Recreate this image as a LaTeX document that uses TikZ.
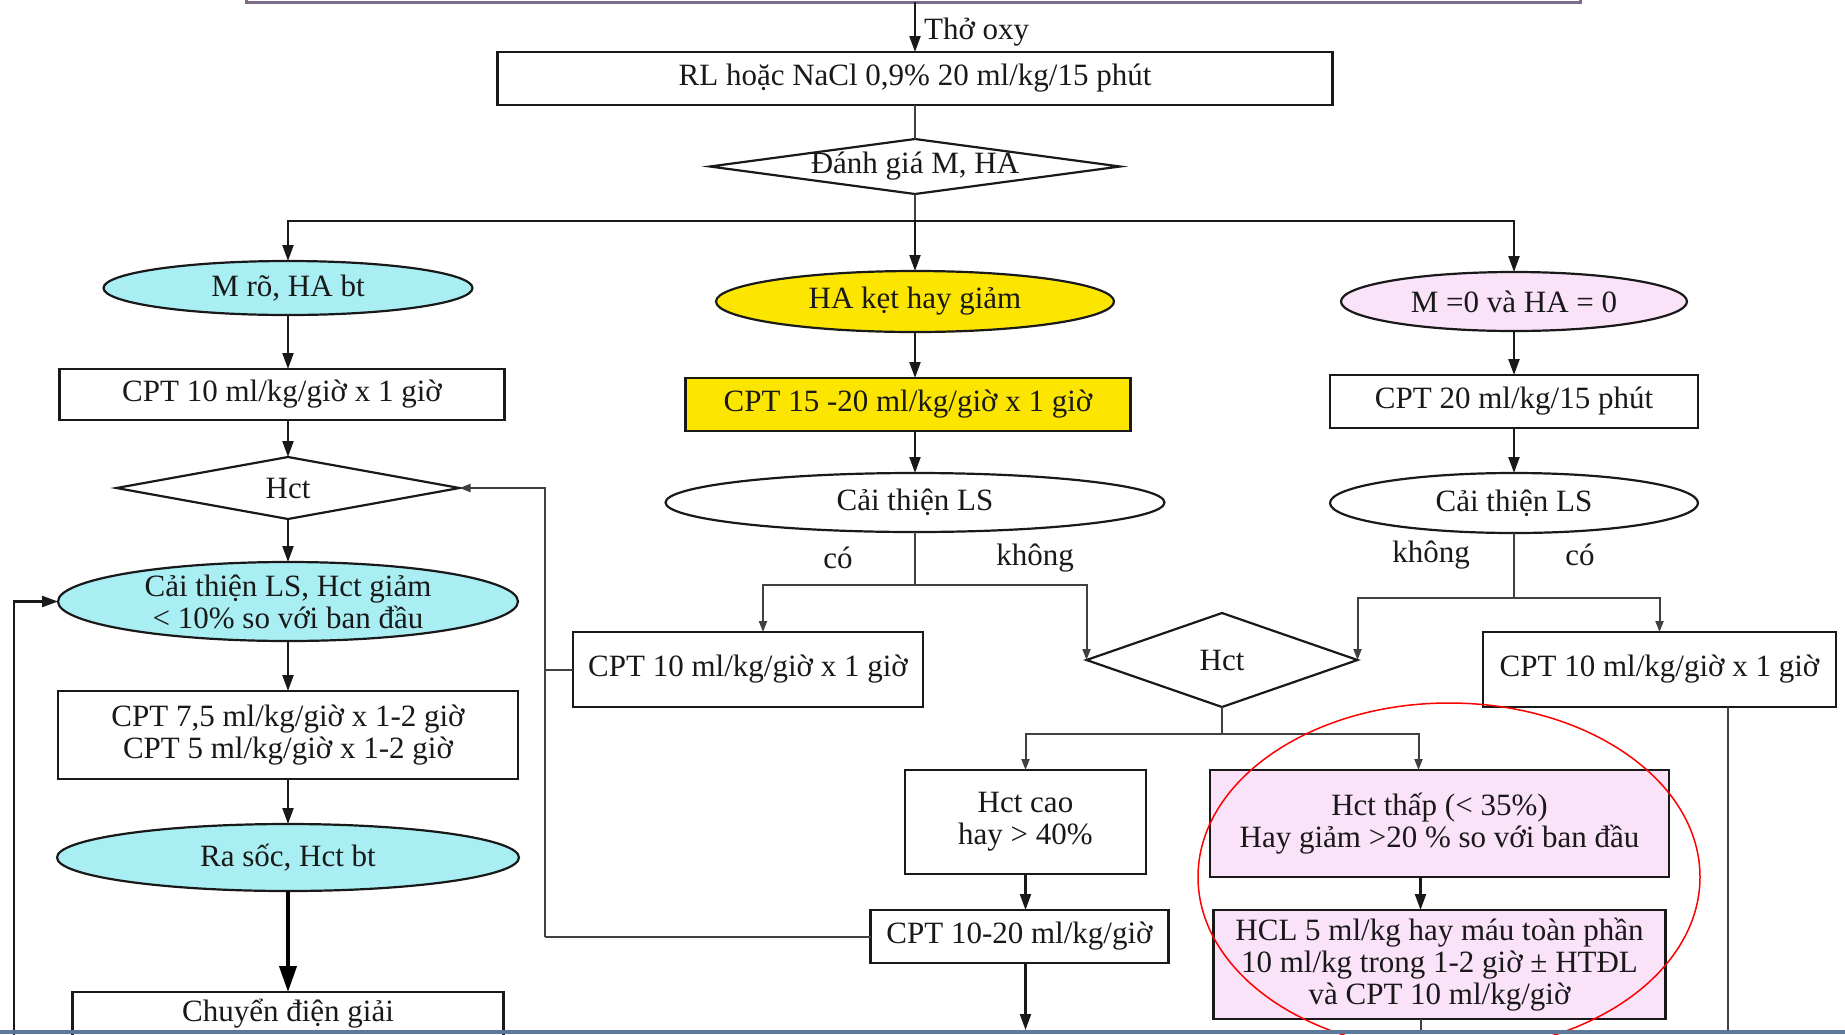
\documentclass[tikz,border=0pt]{standalone}
\usepackage{fontspec}
\setmainfont{Liberation Serif}
\usetikzlibrary{shapes.geometric, arrows.meta, positioning}

\definecolor{cyanfill}{HTML}{A9EEF2}
\definecolor{yelfill}{HTML}{FCE600}
\definecolor{pinkfill}{HTML}{FAE2F8}
\definecolor{topedge}{HTML}{7D6B87}
\definecolor{frameblue}{HTML}{5B7A99}

\begin{document}
\begin{tikzpicture}[
    x=1pt, y=-1pt,
    >={Triangle[length=16pt,width=11pt]},
    every node/.style={font=\fontsize{31}{32}\selectfont, text=black!90},
    box/.style={rectangle, draw=black!90, line width=2.2pt, align=center, inner sep=2pt, outer sep=0pt},
    boxyel/.style={box, fill=yelfill},
    boxpink/.style={box, fill=pinkfill},
    oval/.style={ellipse, draw=black!90, line width=2.2pt, align=center, inner sep=0pt, outer sep=0pt},
    ovcyan/.style={oval, fill=cyanfill},
    ovyel/.style={oval, fill=yelfill},
    ovpink/.style={oval, fill=pinkfill},
    decide/.style={diamond, draw=black!90, line width=2.2pt, inner sep=0pt, outer sep=0pt},
    arrow/.style={->, line width=2.2pt, draw=black!90},
    arrowsm/.style={-{Triangle[length=11pt,width=8pt]}, line width=2pt, draw=black!75},
    bigarrow/.style={-{Triangle[length=26pt,width=17pt]}, line width=4pt, draw=black},
    link/.style={line width=2pt, draw=black!75},
    yesno/.style={inner sep=0pt},
    circled/.style={draw=red, line width=1.5pt},
]
\clip (0,0) rectangle (1845,1034);
\fill[white] (0,0) rectangle (1845,1034);

% --- Top ---
\coordinate (tl) at (246,-20);
\coordinate (tr) at (1580,2);
\coordinate (oxy) at (915,2);
\draw[topedge, line width=3pt] (tl) rectangle (tr);

\node[box, minimum width=835pt, minimum height=53pt] (rl) at (915,78.5) {RL hoặc NaCl 0,9\% 20 ml/kg/15 phút};
\node[decide, minimum width=410pt, minimum height=55pt, below=34pt of rl,
      label={center:{Đánh giá M, HA}}] (da) {};
\coordinate (split) at (915,221);

% --- Left column ---
\node[ovcyan, minimum width=369pt, minimum height=54pt] (e1) at (288,288) {M rõ, HA bt};
\node[box, minimum width=445pt, minimum height=51pt, below=54pt of e1, xshift=-6pt] (b1) {CPT 10 ml/kg/giờ x 1 giờ};
\node[decide, minimum width=343pt, minimum height=62pt, below=37pt of e1.south |- b1.south,
      label={center:Hct}] (d1) {};
\node[ovcyan, minimum width=460pt, minimum height=79pt, inner ysep=-5pt, below=43pt of d1] (e2)
    {Cải thiện LS, Hct giảm\\< 10\% so với ban đầu};
\node[box, minimum width=460pt, minimum height=88pt, below=50pt of e2] (b2)
    {CPT 7,5 ml/kg/giờ x 1-2 giờ\\CPT 5 ml/kg/giờ x 1-2 giờ};
\node[ovcyan, minimum width=462pt, minimum height=67pt, below=45pt of b2] (e3) {Ra sốc, Hct bt};
\node[box, minimum width=431pt, minimum height=44pt, below=101pt of e3] (b3) {Chuyển điện giải};

% --- Middle column ---
\node[ovyel, minimum width=398pt, minimum height=61pt] (eha) at (915,301.5) {HA kẹt hay giảm};
\node[boxyel, minimum width=445pt, minimum height=53pt, below=46pt of eha, xshift=-7pt] (yb) {CPT 15 -20 ml/kg/giờ x 1 giờ};
\node[oval, minimum width=499pt, minimum height=59pt, below=42pt of eha.south |- yb.south] (cls) {Cải thiện LS};
\node[box, minimum width=350pt, minimum height=75pt] (mb) at (748,669.5) {CPT 10 ml/kg/giờ x 1 giờ};
\node[decide, minimum width=271pt, minimum height=94pt, label={center:Hct}] (hct2) at (1222,660) {};
\node[box, minimum width=241pt, minimum height=104pt] (hcao) at (1025.5,822) {Hct cao\\hay > 40\%};
\node[box, minimum width=298pt, minimum height=53pt, below=36pt of hcao, xshift=-6pt] (c1020) {CPT 10-20 ml/kg/giờ};

% --- Right column ---
\node[ovpink, minimum width=346pt, minimum height=59pt] (em3) at (1514,301.5) {M =0 và HA = 0};
\node[box, minimum width=368pt, minimum height=53pt, below=44pt of em3] (rb1) {CPT 20 ml/kg/15 phút};
\node[oval, minimum width=368pt, minimum height=60pt, below=45pt of rb1] (rcls) {Cải thiện LS};
\node[box, minimum width=353pt, minimum height=75pt] (rb2) at (1659.5,669.5) {CPT 10 ml/kg/giờ x 1 giờ};
\node[boxpink, minimum width=459pt, minimum height=107pt] (pk1) at (1439.5,823.5)
    {Hct thấp (< 35\%)\\ Hay giảm >20 \% so với ban đầu};
\node[boxpink, minimum width=452pt, minimum height=109pt, below=33pt of pk1] (pk2)
    {HCL 5 ml/kg hay máu toàn phần\\10 ml/kg trong 1-2 giờ ± HTĐL\\và CPT 10 ml/kg/giờ};

% --- Branch labels ---
\node[yesno] (lco1) at (838,558) {có};
\node[yesno] (lkh1) at (1035,558) {không};
\node[yesno] (lkh2) at (1431,555) {không};
\node[yesno] (lco2) at (1580,555) {có};

% --- Loose ends ---
\coordinate (bot) at (0,1030);
\coordinate (lbot) at (14,1040);
\coordinate (lx) at (545,600);
\coordinate (msplit) at (0,585);
\coordinate (rsplit) at (0,598);
\coordinate (hsplit) at (0,734);

% --- Arrows: top ---
\draw[arrow] (oxy) -- node[right, inner sep=8pt, yshift=-5pt] (lbloxy) {Thở oxy} (rl.north);
\draw[link] (rl.south) -- (da.north);
\draw[link] (da.south) -- (split);
\draw[arrow] (split) -| (e1.north);
\draw[arrow] (split) -- (eha.north);
\draw[arrow] (split) -| (em3.north);

% --- Arrows: left column ---
\draw[arrow] (e1) -- (e1.south |- b1.north);
\draw[arrow] (e1.south |- b1.south) -- (d1);
\draw[arrow] (d1) -- (e2);
\draw[arrow] (e2) -- (b2);
\draw[arrow] (b2) -- (e3);
\draw[bigarrow] (e3) -- (b3);
\draw[arrow] (lbot) |- (e2.west);

% --- Arrows: middle column ---
\draw[arrow] (eha) -- (eha.south |- yb.north);
\draw[arrow] (eha.south |- yb.south) -- (cls);
\draw[link] (cls.south) -- (cls.south |- msplit);
\draw[arrowsm] (cls.south |- msplit) -| ([xshift=15pt]mb.north);
\draw[arrowsm] (cls.south |- msplit) -| (hct2.west);
\draw[link] (hct2.south) -- (hct2.south |- hsplit);
\draw[arrowsm] (hct2.south |- hsplit) -| (hcao.north);
\draw[arrowsm] (hct2.south |- hsplit) -| ([xshift=-21pt]pk1.north);
\draw[arrow] (hcao) -- (hcao.south |- c1020.north);
\draw[arrow] (hcao.south |- c1020.south) -- (hcao.south |- bot);
\draw[link] (c1020.west) -- (c1020.west -| lx);
\draw[arrowsm] (c1020.west -| lx) |- (d1.east);
\draw[link] (mb.west) -- (mb.west -| lx);

% --- Arrows: right column ---
\draw[arrow] (em3) -- (rb1);
\draw[arrow] (rb1) -- (rcls);
\draw[link] (rcls.south) -- (rcls.south |- rsplit);
\draw[arrowsm] (rcls.south |- rsplit) -| (hct2.east);
\draw[arrowsm] (rcls.south |- rsplit) -| (rb2.north);
\draw[link] ([xshift=68pt]rb2.south) -- ([xshift=68pt]rb2.south |- bot);
\draw[arrow] ([xshift=-19pt]pk1.south) -- ([xshift=-19pt]pk1.south |- pk2.north);
\draw[link] ([xshift=-19pt]pk2.south) -- ([xshift=-19pt]pk2.south |- bot);

% --- Highlight ---
\draw[circled] (1449,877) ellipse [x radius=251pt, y radius=174pt];

% --- Frame ---
\fill[frameblue] (0,1030) rectangle (1845,1034);

\end{tikzpicture}
\end{document}
